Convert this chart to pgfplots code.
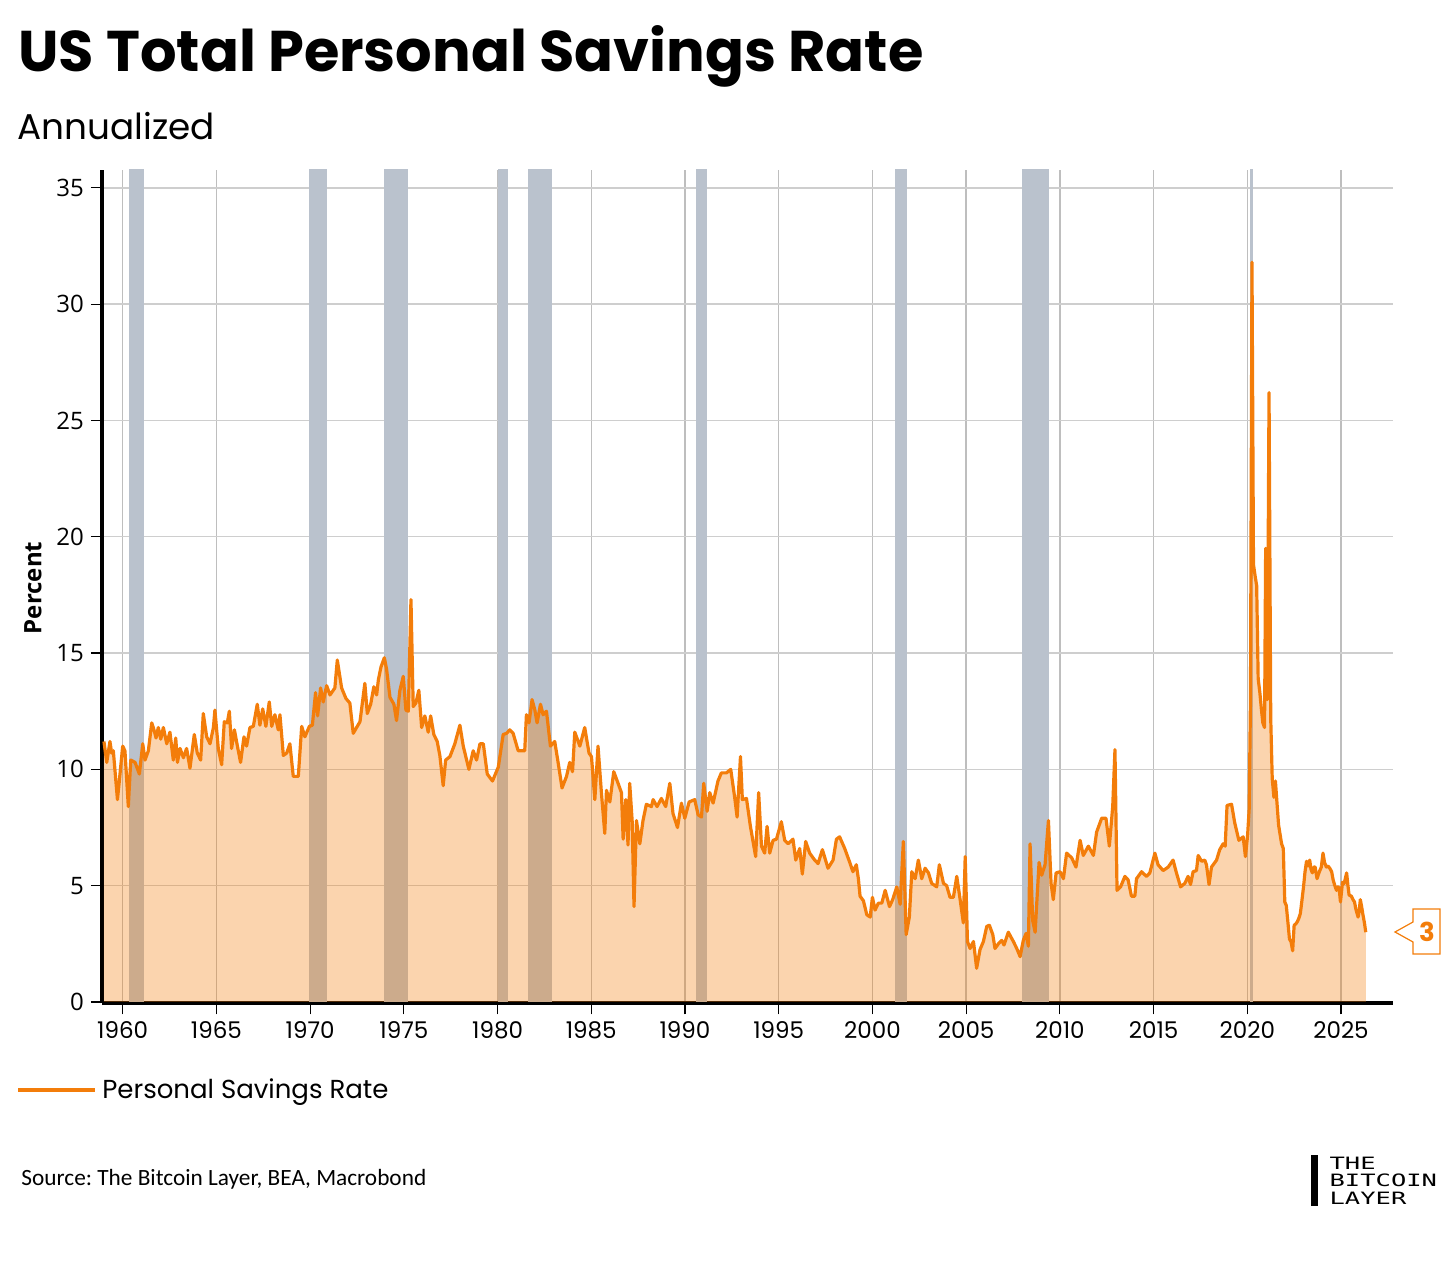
\documentclass[border=0pt]{standalone}
\usepackage{fontspec}
\usepackage{pgfplots}
\pgfplotsset{compat=1.18}
\usepackage{pgfplotstable}
\setmainfont{Poppins}
\newfontfamily\opensans{Open Sans}
\newfontfamily\carlito{Carlito}
\newfontfamily\mono{DejaVu Sans Mono}
\definecolor{psr}{RGB}{243,125,10}
\definecolor{rec}{RGB}{186,194,205}
\definecolor{gridv}{RGB}{190,190,190}
\definecolor{gridh}{RGB}{206,206,206}
\frenchspacing

\pgfplotstableread{
year val
1959.00 11.2
1959.15 10.3
1959.32 11.2
1959.41 10.7
1959.50 10.8
1959.72 8.7
1959.82 9.5
1960.00 11.0
1960.12 10.8
1960.30 8.4
1960.43 10.4
1960.66 10.3
1960.89 9.8
1961.07 11.1
1961.19 10.4
1961.37 10.8
1961.55 12.0
1961.67 11.7
1961.78 11.35
1961.90 11.8
1962.03 11.3
1962.17 11.8
1962.35 11.1
1962.52 11.6
1962.70 10.4
1962.83 11.35
1962.92 10.3
1963.06 10.9
1963.24 10.5
1963.41 10.9
1963.59 10.05
1963.82 11.5
1963.98 10.7
1964.16 10.4
1964.30 12.4
1964.48 11.4
1964.66 11.1
1964.84 11.8
1964.92 12.55
1965.10 10.9
1965.28 10.2
1965.42 12.05
1965.58 12.0
1965.69 12.5
1965.81 10.9
1965.96 11.7
1966.12 11.0
1966.29 10.3
1966.47 11.4
1966.61 11.0
1966.79 11.8
1966.97 11.85
1967.18 12.8
1967.32 11.9
1967.47 12.6
1967.64 11.85
1967.82 12.9
1967.95 11.85
1968.12 12.35
1968.30 11.7
1968.39 12.35
1968.57 10.6
1968.75 10.7
1968.92 11.1
1969.10 9.7
1969.37 9.7
1969.55 11.85
1969.72 11.4
1969.96 11.85
1970.12 11.9
1970.29 13.3
1970.40 12.3
1970.56 13.5
1970.70 12.9
1970.88 13.6
1971.06 13.2
1971.32 13.5
1971.45 14.7
1971.68 13.5
1971.91 13.05
1972.12 12.85
1972.30 11.55
1972.48 11.8
1972.66 12.05
1972.92 13.7
1973.05 12.4
1973.23 12.8
1973.40 13.55
1973.55 13.2
1973.64 13.85
1973.78 14.4
1973.96 14.8
1974.08 14.3
1974.26 13.1
1974.47 12.8
1974.61 12.1
1974.79 13.4
1974.97 14.0
1975.11 12.55
1975.24 12.5
1975.38 17.3
1975.50 12.7
1975.64 12.85
1975.80 13.4
1975.95 11.8
1976.12 12.3
1976.30 11.6
1976.43 12.3
1976.60 11.5
1976.78 11.2
1976.92 10.6
1977.10 9.3
1977.23 10.4
1977.46 10.55
1977.72 11.1
1977.99 11.9
1978.17 11.0
1978.47 10.0
1978.70 10.8
1978.88 10.4
1979.06 11.1
1979.24 11.1
1979.45 9.8
1979.73 9.5
1980.04 10.1
1980.30 11.5
1980.48 11.55
1980.65 11.7
1980.83 11.55
1981.10 10.8
1981.45 10.8
1981.54 12.35
1981.68 12.0
1981.84 13.0
1981.99 12.55
1982.11 12.0
1982.29 12.8
1982.43 12.35
1982.61 12.5
1982.82 11.0
1983.05 11.2
1983.23 10.3
1983.44 9.2
1983.68 9.7
1983.85 10.3
1984.00 9.9
1984.12 11.6
1984.39 11.0
1984.65 11.8
1984.88 10.7
1985.01 10.55
1985.19 8.7
1985.36 11.0
1985.54 9.0
1985.72 7.25
1985.81 9.1
1985.99 8.6
1986.20 9.9
1986.43 9.4
1986.61 9.0
1986.70 7.0
1986.84 8.7
1986.96 6.75
1987.05 9.4
1987.18 7.8
1987.28 4.1
1987.41 7.8
1987.59 6.8
1987.76 7.8
1987.94 8.5
1988.21 8.4
1988.30 8.7
1988.51 8.4
1988.74 8.75
1988.97 8.4
1989.19 9.4
1989.36 8.1
1989.60 7.5
1989.81 8.55
1989.99 7.9
1990.22 8.6
1990.52 8.7
1990.70 8.05
1990.88 7.95
1991.00 9.4
1991.18 8.2
1991.32 9.0
1991.50 8.55
1991.76 9.5
1991.94 9.85
1992.21 9.85
1992.44 10.0
1992.65 8.8
1992.78 7.95
1992.96 10.55
1993.06 8.7
1993.28 8.75
1993.49 7.55
1993.77 6.25
1993.93 9.0
1994.08 6.7
1994.25 6.4
1994.38 7.55
1994.52 6.4
1994.70 6.95
1994.88 7.0
1995.14 7.75
1995.32 6.95
1995.50 6.8
1995.76 7.0
1995.91 6.1
1996.12 6.6
1996.26 5.5
1996.44 6.9
1996.65 6.4
1996.92 6.1
1997.10 5.95
1997.33 6.55
1997.63 5.75
1997.90 6.1
1998.08 7.0
1998.25 7.1
1998.52 6.6
1998.79 6.0
1998.96 5.6
1999.14 5.9
1999.25 5.3
1999.34 4.55
1999.52 4.35
1999.70 3.75
1999.88 3.65
2000.00 4.5
2000.14 3.95
2000.32 4.25
2000.50 4.25
2000.68 4.8
2000.91 4.1
2001.08 4.4
2001.30 4.95
2001.48 4.2
2001.65 6.9
2001.80 2.9
2001.97 3.65
2002.10 5.6
2002.28 5.3
2002.45 6.1
2002.63 5.3
2002.81 5.75
2002.99 5.55
2003.16 5.1
2003.43 4.95
2003.57 5.9
2003.79 5.1
2003.96 5.0
2004.14 4.5
2004.32 4.5
2004.50 5.4
2004.68 4.4
2004.85 3.4
2004.95 6.25
2005.07 2.6
2005.21 2.3
2005.39 2.6
2005.56 1.45
2005.74 2.25
2005.92 2.6
2006.10 3.25
2006.24 3.3
2006.42 2.9
2006.54 2.3
2006.72 2.5
2006.90 2.65
2007.02 2.45
2007.25 3.0
2007.52 2.6
2007.70 2.3
2007.88 1.95
2008.05 2.65
2008.20 2.95
2008.32 2.4
2008.41 6.8
2008.55 3.5
2008.68 3.0
2008.89 6.0
2009.03 5.45
2009.21 5.9
2009.39 7.8
2009.53 5.1
2009.65 4.4
2009.80 5.55
2010.01 5.6
2010.19 5.3
2010.36 6.4
2010.63 6.2
2010.86 5.8
2011.08 6.95
2011.25 6.3
2011.52 6.7
2011.79 6.3
2011.96 7.3
2012.23 7.9
2012.46 7.9
2012.64 6.7
2012.82 8.4
2012.94 10.85
2013.05 4.8
2013.24 4.95
2013.47 5.4
2013.64 5.25
2013.82 4.55
2014.00 4.55
2014.09 5.3
2014.36 5.6
2014.62 5.4
2014.80 5.55
2015.07 6.4
2015.24 5.9
2015.51 5.65
2015.78 5.8
2016.04 6.1
2016.22 5.55
2016.44 4.95
2016.67 5.1
2016.84 5.4
2016.97 5.05
2017.11 5.6
2017.29 5.65
2017.38 6.3
2017.56 6.05
2017.73 6.1
2017.82 5.9
2017.96 5.05
2018.09 5.8
2018.36 6.1
2018.53 6.55
2018.71 6.8
2018.82 6.7
2018.92 8.45
2019.16 8.5
2019.33 7.7
2019.55 6.95
2019.78 7.1
2019.90 6.25
2020.02 7.2
2020.10 8.3
2020.17 13.0
2020.25 31.8
2020.33 18.8
2020.42 18.3
2020.50 17.9
2020.58 13.9
2020.67 13.3
2020.75 12.6
2020.83 12.0
2020.92 11.8
2020.98 19.5
2021.07 13.0
2021.16 26.2
2021.25 12.2
2021.33 9.6
2021.42 8.8
2021.50 9.5
2021.58 8.6
2021.67 7.6
2021.75 7.2
2021.83 6.8
2021.92 6.6
2022.00 4.3
2022.08 4.15
2022.17 3.4
2022.25 2.7
2022.33 2.6
2022.42 2.2
2022.50 3.3
2022.58 3.35
2022.67 3.45
2022.75 3.6
2022.83 3.8
2022.92 4.4
2023.00 4.95
2023.08 5.6
2023.16 6.05
2023.25 5.85
2023.33 6.1
2023.40 5.7
2023.47 5.55
2023.55 5.8
2023.62 5.8
2023.72 5.3
2023.80 5.5
2023.87 5.65
2023.95 5.8
2024.04 6.4
2024.12 6.0
2024.22 5.8
2024.30 5.85
2024.40 5.75
2024.50 5.6
2024.58 5.25
2024.67 5.0
2024.76 4.8
2024.84 4.95
2024.90 4.9
2024.97 4.3
2025.08 5.15
2025.17 5.1
2025.30 5.55
2025.37 5.0
2025.43 4.6
2025.55 4.55
2025.64 4.4
2025.72 4.3
2025.79 4.0
2025.91 3.65
2025.97 3.9
2026.03 4.4
2026.10 4.1
2026.17 3.75
2026.25 3.4
2026.32 3.0
}\psrdata

\begin{document}
\begin{tikzpicture}
\path[use as bounding box] (0,0) rectangle (728pt,631pt);
\begin{axis}[
  at={(51pt,129.35pt)}, anchor=south west,
  scale only axis, width=645.65pt, height=416.65pt,
  xmin=1958.896, xmax=2027.79, ymin=-0.056, ymax=35.77,
  axis x line*=bottom, axis y line*=left,
  axis line style={-, black, line width=1.8pt},
  xtick={1960,1965,...,2025}, ytick={0,5,...,35},
  tick align=outside, major tick length=5.5pt,
  tick style={black, line width=0.6pt},
  xmajorgrids, ymajorgrids,
  x grid style={gridv, line width=0.7pt},
  y grid style={gridh, line width=0.7pt},
  /pgf/number format/assume math mode=true,
  /pgf/number format/1000 sep={},
  scaled ticks=false,
  xticklabel style={font=\fontsize{11.5}{12}\selectfont},
  yticklabel style={font=\opensans\fontsize{12}{12}\selectfont},
]
\addplot[fill=rec, draw=none, forget plot] coordinates {(1960.35,0) (1960.35,36) (1961.15,36) (1961.15,0)};
\addplot[fill=rec, draw=none, forget plot] coordinates {(1969.93,0) (1969.93,36) (1970.90,36) (1970.90,0)};
\addplot[fill=rec, draw=none, forget plot] coordinates {(1973.93,0) (1973.93,36) (1975.22,36) (1975.22,0)};
\addplot[fill=rec, draw=none, forget plot] coordinates {(1980.00,0) (1980.00,36) (1980.57,36) (1980.57,0)};
\addplot[fill=rec, draw=none, forget plot] coordinates {(1981.60,0) (1981.60,36) (1982.90,36) (1982.90,0)};
\addplot[fill=rec, draw=none, forget plot] coordinates {(1990.60,0) (1990.60,36) (1991.20,36) (1991.20,0)};
\addplot[fill=rec, draw=none, forget plot] coordinates {(2001.20,0) (2001.20,36) (2001.87,36) (2001.87,0)};
\addplot[fill=rec, draw=none, forget plot] coordinates {(2007.97,0) (2007.97,36) (2009.42,36) (2009.42,0)};
\addplot[fill=rec, draw=none, forget plot] coordinates {(2020.13,0) (2020.13,36) (2020.33,36) (2020.33,0)};
\addplot[draw=none, fill=psr, fill opacity=0.33, forget plot] table[x=year,y=val]{\psrdata} \closedcycle;
\addplot[psr, line width=1.6pt, line join=round] table[x=year,y=val]{\psrdata};
\end{axis}
\begin{scope}[x=0.5pt, y=-0.5pt, shift={(0pt,631pt)}]
\node[anchor=base west, inner sep=0, font=\bfseries\fontsize{28.7}{28.7}\selectfont] at (18,72) {US Total Personal Savings Rate};
\node[anchor=base west, inner sep=0, font=\fontsize{17.9}{17.9}\selectfont] at (17,140) {Annualized};
\node[rotate=90, inner sep=0, font=\opensans\bfseries\fontsize{12}{12}\selectfont] at (33,588) {Percent};
\draw[psr, line width=2pt] (18,1090) -- (95,1090);
\node[anchor=base west, inner sep=0, font=\fontsize{13}{13}\selectfont] at (102,1099) {Personal Savings Rate};
\node[anchor=base west, inner sep=0, font=\carlito\fontsize{11.65}{11.65}\selectfont] at (21,1186) {Source: The Bitcoin Layer, BEA, Macrobond};
\fill[black] (1311,1155) rectangle (1318,1206);
\node[anchor=base west, inner sep=0, xscale=1.5, font=\mono\fontsize{8.5}{8.5}\selectfont] at (1329,1170) {THE};
\node[anchor=base west, inner sep=0, xscale=1.5, font=\mono\fontsize{8.5}{8.5}\selectfont] at (1329,1186.7) {BITCOIN};
\node[anchor=base west, inner sep=0, xscale=1.5, font=\mono\fontsize{8.5}{8.5}\selectfont] at (1329,1205) {LAYER};
\draw[psr, line width=0.6pt, fill=white] (1395,932) -- (1413,922) -- (1413,909) -- (1440,909) -- (1440,954) -- (1413,954) -- (1413,942) -- cycle;
\node[psr, inner sep=0, font=\bfseries\fontsize{13}{13}\selectfont] at (1427,932) {3};
\end{scope}
\end{tikzpicture}
\end{document}
